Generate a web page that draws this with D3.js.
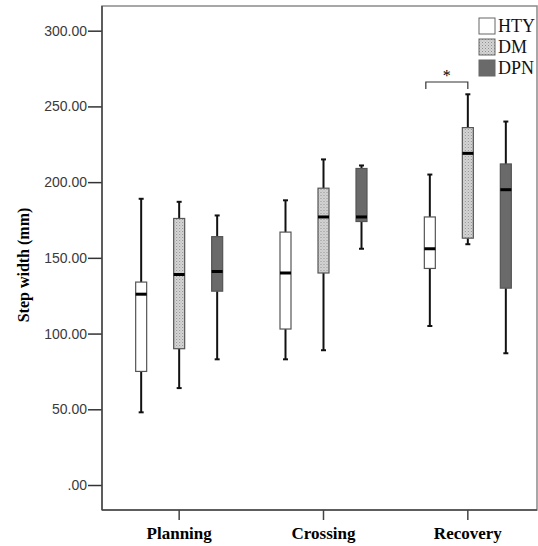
<!DOCTYPE html>
<html>
<head>
<meta charset="utf-8">
<script src="https://cdn.jsdelivr.net/npm/d3@7"></script>
<style>
  body { margin: 0; background: #fff; }
</style>
</head>
<body>
<svg id="chart" width="538" height="546"></svg>
<script>
// data: [low whisker, Q1, median, Q3, high whisker] per phase
const phases = ["Planning", "Crossing", "Recovery"];
const groups = ["HTY", "DM", "DPN"];
const htyStats = [[48, 75, 126, 134, 189], [83, 103, 140, 167, 188], [105, 143, 156, 177, 205]];
const dmStats  = [[64, 90, 139, 176, 187], [89, 140, 177, 196, 215], [159, 163, 219, 236, 258]];
const dpnStats = [[83, 128, 141, 164, 178], [156, 174, 177, 209, 211], [87, 130, 195, 212, 240]];
const yTicks = [0, 50, 100, 150, 200, 250, 300];

const svg = d3.select("#chart");
const plotL = 102, plotR = 537, plotT = 6, plotB = 510;

const y = d3.scaleLinear().domain([-16.5, 316.3]).range([plotB, plotT]);
const x = d3.scaleBand().domain(phases).range([107, 540]);
const xg = d3.scalePoint().domain(groups).range([-38, 38]);

// pattern for DM
const defs = svg.append("defs");
const pat = defs.append("pattern")
  .attr("id", "dots").attr("width", 3).attr("height", 3)
  .attr("patternUnits", "userSpaceOnUse");
pat.append("rect").attr("width", 3).attr("height", 3).attr("fill", "#d6d6d6");
pat.append("rect").attr("width", 1).attr("height", 1).attr("fill", "#8e8e8e");
pat.append("rect").attr("x", 1.5).attr("y", 1.5).attr("width", 1).attr("height", 1).attr("fill", "#a8a8a8");

const fills = { HTY: "#ffffff", DM: "url(#dots)", DPN: "#6a6a6a" };

// frame
svg.append("rect")
  .attr("x", plotL).attr("y", plotT)
  .attr("width", plotR - plotL).attr("height", plotB - plotT)
  .attr("fill", "none").attr("stroke", "#8a8a8a").attr("stroke-width", 1.5);

// y axis
const yAxis = svg.append("g")
  .attr("transform", `translate(${plotL},0)`)
  .call(d3.axisLeft(y).tickValues(yTicks).tickSize(14).tickPadding(1)
    .tickFormat(v => v === 0 ? ".00" : v.toFixed(2)));
yAxis.select(".domain").remove();
yAxis.selectAll(".tick line").attr("stroke", "#333").attr("stroke-width", 1.5);
yAxis.selectAll(".tick text")
  .attr("fill", "#3a3a3a")
  .style("font-family", "'Liberation Sans', Arial, sans-serif")
  .style("font-size", "14px");

svg.append("line").attr("x1", plotL).attr("x2", plotL).attr("y1", plotT).attr("y2", plotB)
  .attr("stroke", "#444").attr("stroke-width", 1.5);

// x axis
svg.append("line").attr("x1", plotL).attr("x2", plotR).attr("y1", plotB).attr("y2", plotB)
  .attr("stroke", "#444").attr("stroke-width", 1.5);
const xTick = svg.append("g").selectAll("g")
  .data(phases).enter().append("g")
  .attr("transform", d => `translate(${x(d) + x.bandwidth() / 2},0)`);
xTick.append("line").attr("y1", plotB).attr("y2", plotB + 10)
  .attr("stroke", "#444").attr("stroke-width", 1.5);
xTick.append("text").attr("y", 539).attr("text-anchor", "middle")
  .style("font-family", "'Liberation Serif', serif")
  .style("font-weight", "bold").style("font-size", "17px")
  .text(d => d);

// y title
svg.append("text")
  .attr("transform", "translate(29,265) rotate(-90)")
  .attr("text-anchor", "middle")
  .style("font-family", "'Liberation Serif', serif")
  .style("font-weight", "bold").style("font-size", "16px")
  .text("Step width (mm)");

// boxes
const rows = [];
groups.forEach((g, gi) => {
  const stats = [htyStats, dmStats, dpnStats][gi];
  phases.forEach((p, pi) => {
    const s = stats[pi];
    rows.push({ group: g, phase: p, lo: s[0], q1: s[1], med: s[2], q3: s[3], hi: s[4] });
  });
});

const bw = 11, cap = 5;
const box = svg.append("g").selectAll("g")
  .data(rows).enter().append("g")
  .attr("transform", d => `translate(${x(d.phase) + x.bandwidth() / 2 + xg(d.group)},0)`);

box.append("line").attr("y1", d => y(d.hi)).attr("y2", d => y(d.q3))
  .attr("stroke", "#111").attr("stroke-width", 2);
box.append("line").attr("y1", d => y(d.q1)).attr("y2", d => y(d.lo))
  .attr("stroke", "#111").attr("stroke-width", 2);
box.append("line").attr("x1", -cap / 2).attr("x2", cap / 2)
  .attr("y1", d => y(d.hi)).attr("y2", d => y(d.hi))
  .attr("stroke", "#111").attr("stroke-width", 2);
box.append("line").attr("x1", -cap / 2).attr("x2", cap / 2)
  .attr("y1", d => y(d.lo)).attr("y2", d => y(d.lo))
  .attr("stroke", "#111").attr("stroke-width", 2);
box.append("rect")
  .attr("x", -bw / 2).attr("width", bw)
  .attr("y", d => y(d.q3)).attr("height", d => y(d.q1) - y(d.q3))
  .attr("fill", d => fills[d.group])
  .attr("stroke", "#555").attr("stroke-width", 1.2);
box.append("line").attr("x1", -bw / 2).attr("x2", bw / 2)
  .attr("y1", d => y(d.med)).attr("y2", d => y(d.med))
  .attr("stroke", "#000").attr("stroke-width", 3);

// significance bracket (HTY vs DM, Recovery)
const rc = x("Recovery") + x.bandwidth() / 2;
const bx1 = rc + xg("HTY") - 4, bx2 = rc + xg("DM");
const by = 82;
svg.append("path")
  .attr("d", `M${bx1},${by + 7}V${by}H${bx2}V${by + 7}`)
  .attr("fill", "none").attr("stroke", "#333").attr("stroke-width", 1.2);
svg.append("text")
  .attr("x", (bx1 + bx2) / 2).attr("y", by - 1)
  .attr("text-anchor", "middle")
  .style("font-family", "'Liberation Serif', serif")
  .style("font-size", "16px")
  .text("*");

// legend
const leg = svg.append("g").selectAll("g")
  .data(groups).enter().append("g")
  .attr("transform", (d, i) => `translate(479,${18 + i * 21})`);
leg.append("rect").attr("width", 16).attr("height", 16)
  .attr("fill", d => fills[d]).attr("stroke", "#666").attr("stroke-width", 1);
leg.append("text").attr("x", 19).attr("y", 14)
  .attr("fill", "#111")
  .style("font-family", "'Liberation Serif', serif")
  .style("font-size", "18px")
  .text(d => d);
</script>
</body>
</html>
